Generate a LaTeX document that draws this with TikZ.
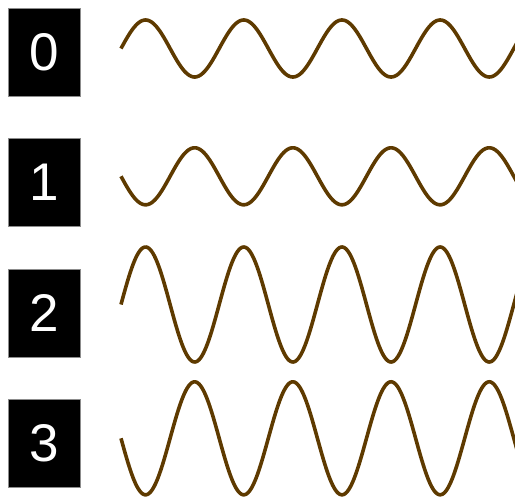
\documentclass[tikz,border=0pt]{standalone}
\usepackage{fontspec}
\setmainfont{Liberation Sans}
\definecolor{wavebrown}{RGB}{94,58,0}
\begin{document}
\begin{tikzpicture}[x=1pt,y=-1pt,
  numbox/.style={fill=black,draw=black!45,line width=0.6pt,text=white,
    minimum width=72pt,minimum height=88pt,inner sep=0pt,
    font=\fontsize{53}{53}\selectfont},
  wave/.style={draw=wavebrown,line width=3.6pt,line cap=butt}]
\useasboundingbox (0,0) rectangle (515,498);
\clip (0,0) rectangle (515,498);
\node[numbox] (b0) at (44,52) {0};
\node[numbox] (b1) at (44,182.5) {1};
\node[numbox] (b2) at (44,313) {2};
\node[numbox] (b3) at (44,443) {3};
\draw[wave] plot[domain=0:396,samples=300,smooth] ({121+\x},{48.5-28.5*sin(\x/98.2*360)});
\draw[wave] plot[domain=0:396,samples=300,smooth] ({121+\x},{176.3+28.5*sin(\x/98.2*360)});
\draw[wave] plot[domain=0:396,samples=300,smooth] ({121+\x},{304.5-57.5*sin(\x/98.2*360)});
\draw[wave] plot[domain=0:396,samples=300,smooth] ({121+\x},{438.3+56.5*sin(\x/98.2*360)});
\end{tikzpicture}
\end{document}
